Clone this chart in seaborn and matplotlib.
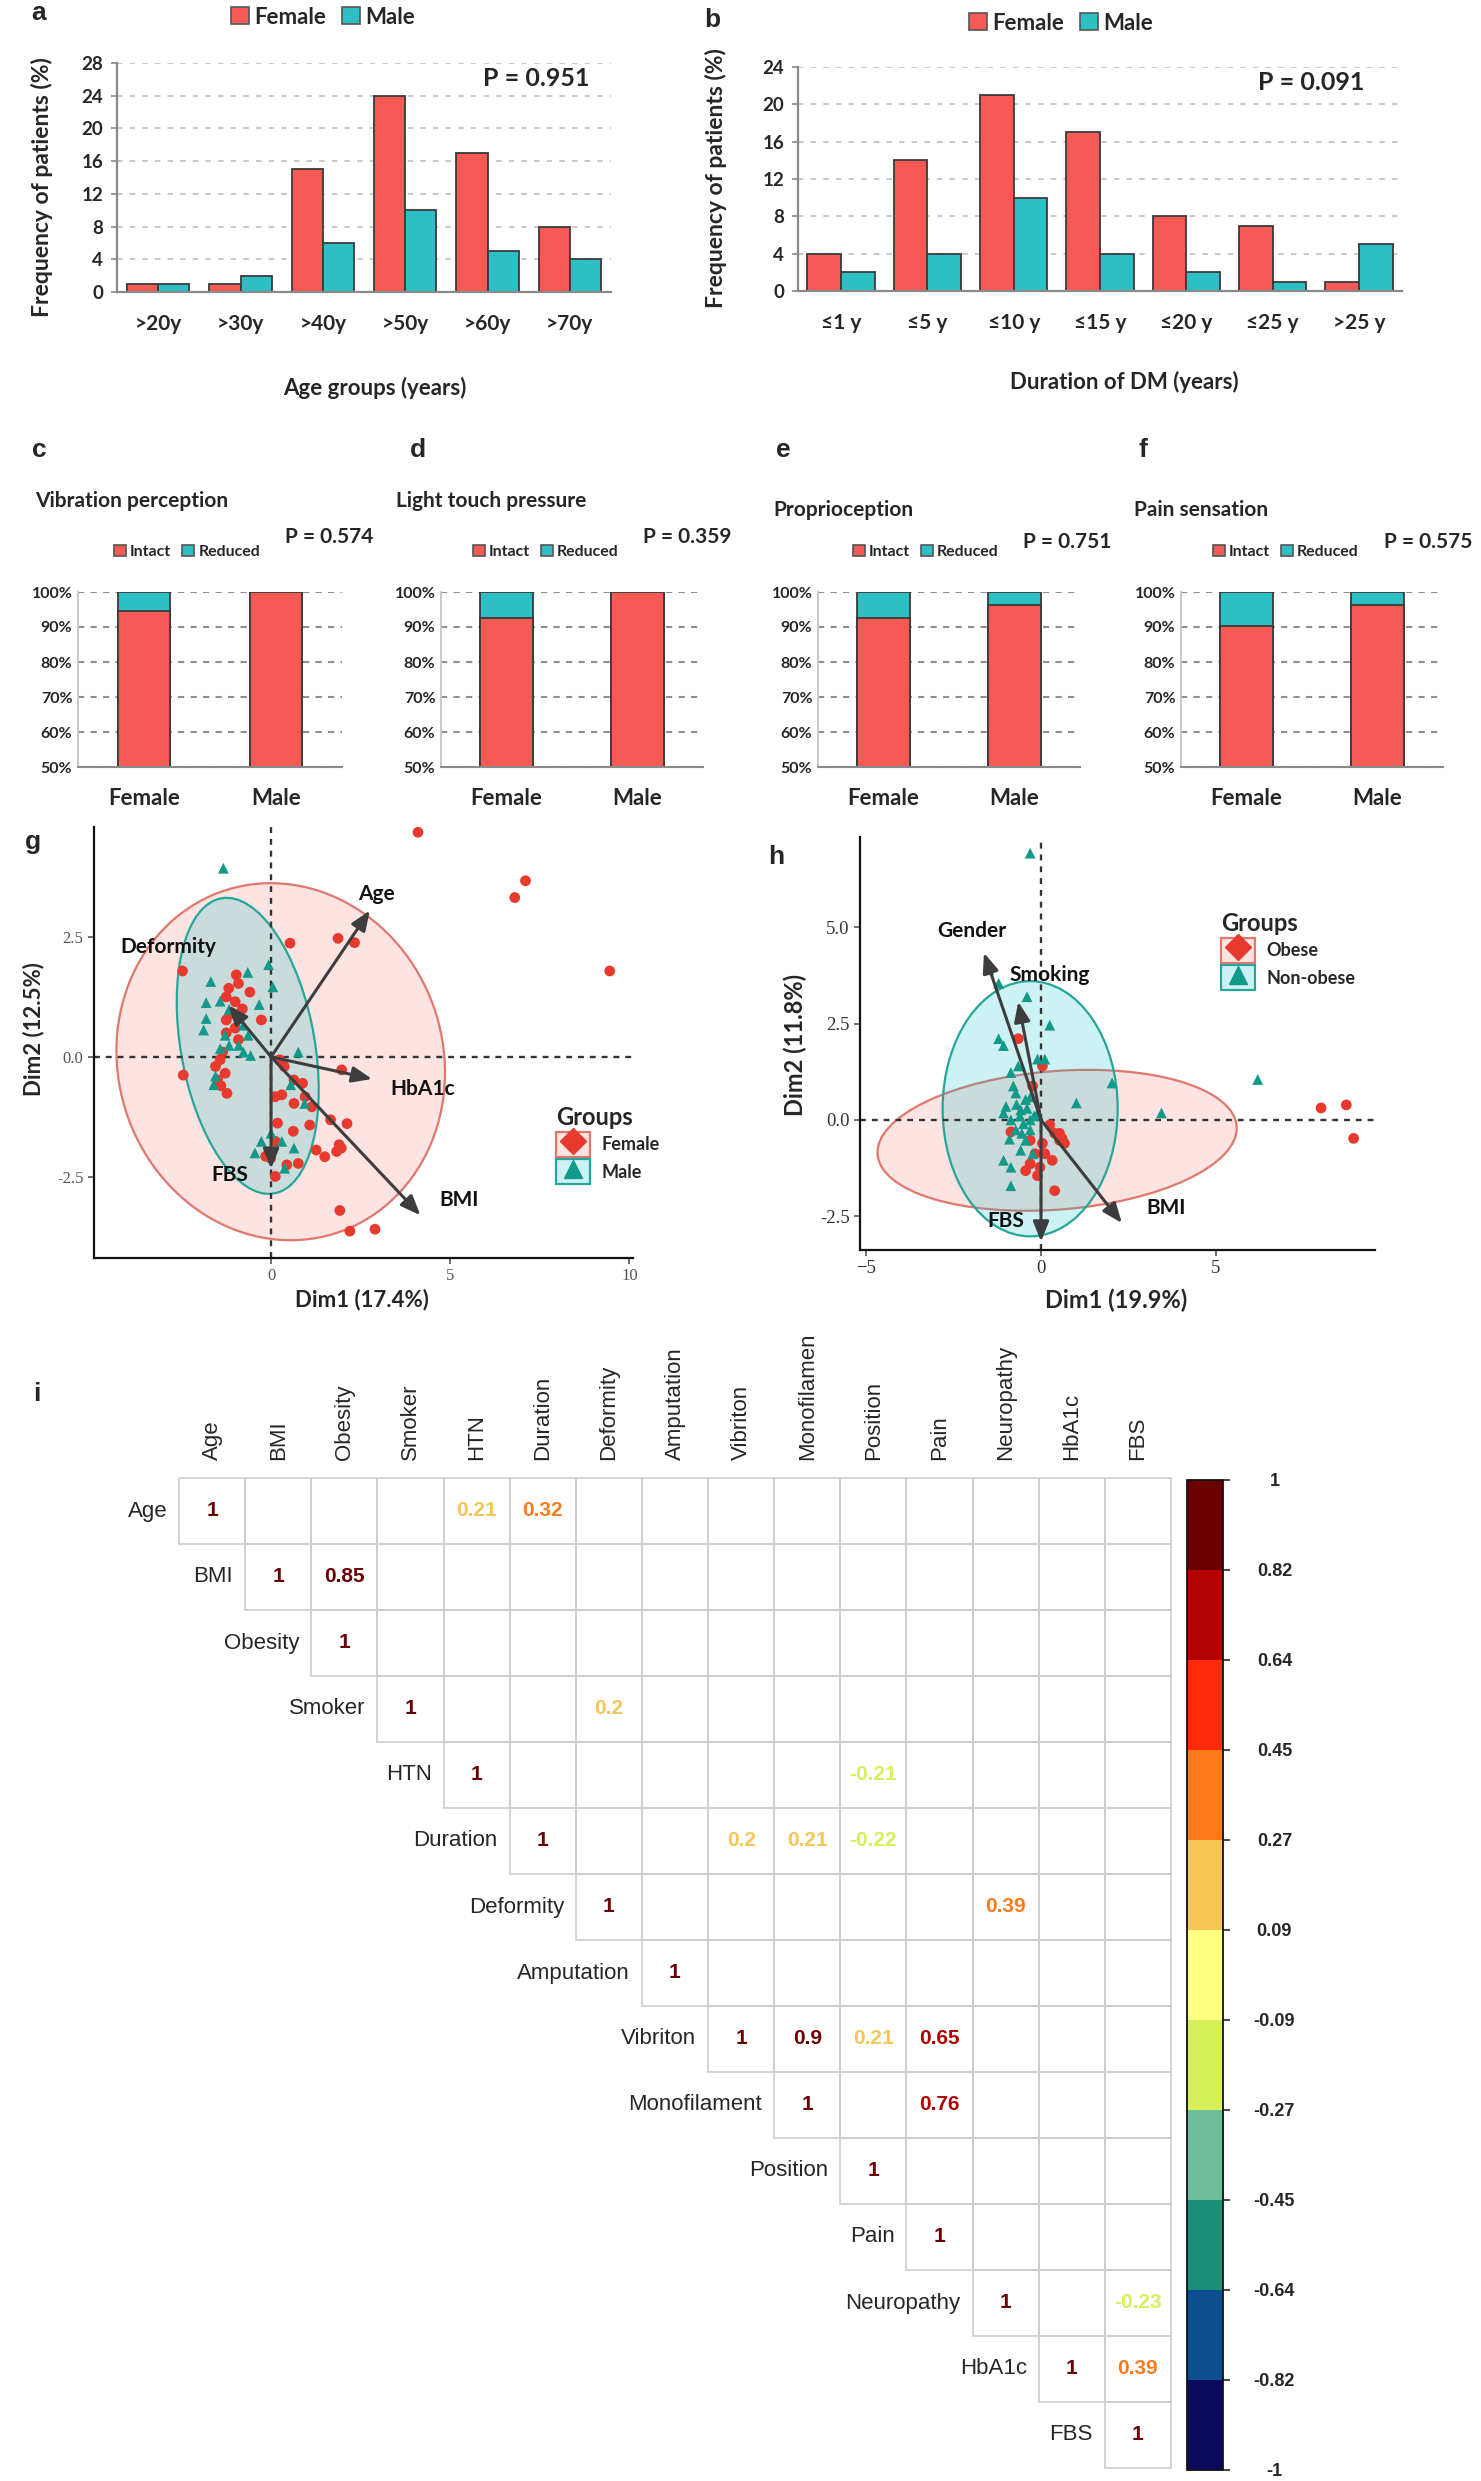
import numpy as np
import pandas as pd
import matplotlib
matplotlib.use('Agg')
import matplotlib.pyplot as plt
import seaborn as sns
from matplotlib.patches import Ellipse, Patch, Rectangle
from matplotlib.lines import Line2D
from matplotlib.colors import ListedColormap, BoundaryNorm, to_rgba
from matplotlib.colorbar import ColorbarBase
from matplotlib.transforms import Bbox, TransformedBbox

sns.set_style('white')
plt.rcParams['font.family'] = ['Lato', 'DejaVu Sans']

# ---------------- data ----------------
sexes = ['Female', 'Male']

age_groups = ['>20y', '>30y', '>40y', '>50y', '>60y', '>70y']
age_female = [1, 1, 15, 24, 17, 8]
age_male = [1, 2, 6, 10, 5, 4]

dur_groups = ['≤1 y', '≤5 y', '≤10 y', '≤15 y', '≤20 y', '≤25 y', '>25 y']
dur_female = [4, 14, 21, 17, 8, 7, 1]
dur_male = [2, 4, 10, 4, 2, 1, 5]

sens_letters = ['c', 'd', 'e', 'f']
sens_titles = ['Vibration perception', 'Light touch pressure', 'Proprioception', 'Pain sensation']
sens_p = ['P = 0.574', 'P = 0.359', 'P = 0.751', 'P = 0.575']
intact_female = [94.5, 92.5, 92.6, 90.2]
intact_male = [100, 100, 96.4, 96.4]
pct_ticks = [50, 60, 70, 80, 90, 100]

# PCA by gender (panel g)
g_female_x = [4.1, 7.1, 6.8, 9.45, 0.53, 1.87, 2.33, -2.47, 1.92, 2.2, 2.9,
              -0.97, -0.91, -1.18, -0.59, -1.25, -1.0, -0.27, -1.25, -1.0, -1.25, -0.91,
              -1.42, -1.55, -1.28, -1.49, -2.45, -1.23, 0.24, 0.37, 0.64, 0.88, 1.97,
              0.12, 0.3, 0.95, 0.64, 1.14, 0.18, 1.08, 1.66, 2.12, 0.62, 0.12,
              1.26, 1.9, 1.96, 1.83, 1.5, -0.01, 0.76, 0.44, 0.12, -0.15,
              -1.35, -1.1, -0.8, -1.4]
g_female_y = [4.68, 3.67, 3.32, 1.79, 2.37, 2.47, 2.38, 1.79, -3.2, -3.63, -3.59,
              1.71, 1.53, 1.43, 1.35, 1.25, 1.15, 0.77, 0.77, 0.6, 0.5, 0.36,
              -0.06, -0.2, -0.34, -0.48, -0.38, -0.76, -0.06, -0.2, -0.48, -0.55, -0.27,
              -0.83, -0.79, -0.83, -0.97, -1.04, -1.38, -1.42, -1.31, -1.39, -1.55, -1.76,
              -1.94, -1.83, -1.9, -1.97, -2.08, -2.11, -2.22, -2.25, -2.49, -2.07,
              0.1, 0.9, 1.0, -0.6]
g_male_x = [-1.33, -1.68, -0.65, -0.07, 0.05, -1.81, -0.33, -1.81, -1.42, -1.17,
            -1.88, -1.28, -0.77, -0.64, -0.77, -0.57, -0.9, -1.17, -1.42, 0.76,
            -1.6, -1.55, 0.55, 0.94, -0.27, 0.3, 0.0, 0.38, 0.64, -0.45]
g_male_y = [3.93, 1.57, 1.76, 1.92, 1.46, 1.13, 1.09, 0.8, 1.16, 0.99,
            0.56, 0.45, 0.66, 0.45, 0.1, 0.03, 0.24, 0.24, 0.17, 0.1,
            -0.58, -0.4, -0.58, -0.97, -1.76, -1.76, -1.59, -2.32, -1.9, -2.0]
g_vars = ['Age', 'Deformity', 'HbA1c', 'BMI', 'FBS']
g_arrow_x = [2.76, -1.19, 2.82, 4.17, 0.0]
g_arrow_y = [3.05, 1.08, -0.46, -3.3, -2.33]
g_label_x = [2.95, -2.88, 4.23, 5.26, -1.15]
g_label_y = [3.39, 2.29, -0.66, -2.99, -2.46]
# ellipse: centre x, centre y, width, height, angle
g_ell_female = [0.27, -0.1, 9.2, 7.4, -8]
g_ell_male = [-0.65, 0.23, 6.34, 3.68, 106.5]

# PCA by obesity (panel h)
h_groups = ['Obese', 'Non-obese']
h_obese_x = [8.0, 8.72, 8.93, -0.65, 0.04, -0.24, -0.86, 0.25, 0.53, 0.6, 0.39, 0.04,
             -0.17, 0.32, -0.03, -0.31, -0.44, -0.1, 0.39, 0.11, 0.53, 0.67, -0.31]
h_obese_y = [0.31, 0.39, -0.48, 2.11, 1.4, 0.88, -0.31, -0.13, -0.53, -0.48, -0.35, -0.61,
             -0.88, -1.05, -1.23, -1.14, -1.32, -1.45, -1.84, -0.88, -0.35, -0.61, -0.53]
h_non_x = [-0.31, 6.19, 3.44, 1.01, 2.03, 0.25, -0.4, -1.49, -1.21, -1.21, -1.07, -0.86,
           -0.79, -0.1, 0.11, -1.0, -1.07, -0.86, -0.31, -0.58, -0.44, -0.72, -0.44,
           -1.07, -0.86, -0.86, -0.24, -0.58, -0.31, -0.1, -0.72, -0.65,
           -0.6, -0.4, -0.2, -0.5, -0.7, -0.3, -0.9, -0.55]
h_non_y = [6.93, 1.05, 0.18, 0.44, 0.96, 2.46, 3.2, 3.9, 3.55, 2.11, 1.93, 1.23,
           0.88, 1.58, 1.58, 0.35, 0.18, 0.0, 0.0, 0.26, 0.53, -0.26, -0.53,
           -1.05, -1.23, -1.71, -0.88, -0.79, -0.26, 0.18, 0.7, 1.4,
           0.1, 0.3, 0.1, -0.1, 0.4, 0.6, -0.5, -0.35]
h_vars = ['Gender', 'Smoking', 'BMI', 'FBS']
h_arrow_x = [-1.63, -0.65, 2.31, 0.0]
h_arrow_y = [4.34, 3.07, -2.68, -3.16]
h_label_x = [-1.97, 0.25, 3.58, -1.0]
h_label_y = [4.91, 3.77, -2.28, -2.63]
h_ell_obese = [0.46, -0.53, 10.28, 3.6, 4]
h_ell_non = [-0.31, 0.29, 5.0, 6.63, 0]

# correlation matrix (panel i), only values shown in the figure
var_names = ['Age', 'BMI', 'Obesity', 'Smoker', 'HTN', 'Duration', 'Deformity', 'Amputation',
             'Vibriton', 'Monofilament', 'Position', 'Pain', 'Neuropathy', 'HbA1c', 'FBS']
cor_row = ['Age', 'Age', 'BMI', 'Smoker', 'HTN', 'Duration', 'Duration', 'Duration',
           'Deformity', 'Vibriton', 'Vibriton', 'Vibriton', 'Monofilament', 'Neuropathy', 'HbA1c']
cor_col = ['HTN', 'Duration', 'Obesity', 'Deformity', 'Position', 'Vibriton', 'Monofilament', 'Position',
           'Neuropathy', 'Monofilament', 'Position', 'Pain', 'Pain', 'FBS', 'FBS']
cor_val = [0.21, 0.32, 0.85, 0.2, -0.21, 0.2, 0.21, -0.22, 0.39, 0.9, 0.21, 0.65, 0.76, -0.23, 0.39]
cbar_colors = ['#0a0a5c', '#0b4f91', '#1a9079', '#6cbf9a', '#d6f05a', '#ffff80',
               '#f5c556', '#ff7a1a', '#ff2a0a', '#b30000', '#6b0000']
cbar_labels = ['-1', '-0.82', '-0.64', '-0.45', '-0.27', '-0.09', '0.09', '0.27', '0.45', '0.64', '0.82', '1']

RED = '#f65a54'
TEAL = '#2dbfc3'
EDGE = '#3a3a3a'
PT_RED = '#e8392e'
PT_TEAL = '#12998a'

# ---------------- figure ----------------
W, H = 1481, 2481
fig = plt.figure(figsize=(W / 100, H / 100), dpi=100)


def box(l, t, r, b):
    return fig.add_axes([l / W, 1 - b / H, (r - l) / W, (b - t) / H])


def ftext(x, y, s, **kw):
    return fig.text(x / W, 1 - y / H, s, **kw)


def letter(x, y, s):
    ftext(x, y, s, ha='center', va='center', fontsize=19, fontweight='bold', family='Liberation Sans')


# ---- a, b : grouped bars ----
def group_bars(rect, cats, fem, mal, ymax, width):
    ax = box(*rect)
    df = pd.DataFrame({'group': cats * 2,
                       'sex': ['Female'] * len(cats) + ['Male'] * len(cats),
                       'value': fem + mal})
    sns.barplot(data=df, x='group', y='value', hue='sex', order=cats, hue_order=sexes,
                palette=[RED, TEAL], saturation=1, width=width, edgecolor=EDGE, linewidth=1.3,
                ax=ax, legend=False)
    ax.set_xlim(-0.5, len(cats) - 0.5)
    ax.set_ylim(0, ymax)
    ax.set_yticks(range(0, ymax + 1, 4))
    ax.yaxis.grid(True, color='#c4c4c4', ls=(0, (3, 4)), lw=1.3)
    ax.set_axisbelow(True)
    sns.despine(ax=ax)
    for s in ['left', 'bottom']:
        ax.spines[s].set_color('#8a8a8a')
        ax.spines[s].set_linewidth(1.6)
    ax.set_xticks(np.arange(-0.5, len(cats)), minor=True)
    ax.tick_params(axis='x', which='major', length=0, pad=16, labelsize=15)
    ax.tick_params(axis='x', which='minor', length=6, width=1.4, color='#6a6a6a')
    ax.tick_params(axis='y', length=4, width=1.2, color='#8a8a8a', left=True, pad=6, labelsize=13.5)
    for lbl in ax.get_xticklabels() + ax.get_yticklabels():
        lbl.set_fontweight('bold')
    ax.set_xlabel('')
    ax.set_ylabel('')
    return ax


def bar_legend(ax, cx, cy, labels, size, hl):
    hs = [Patch(facecolor=RED, edgecolor='#555555', lw=1.2), Patch(facecolor=TEAL, edgecolor='#555555', lw=1.2)]
    ax.legend(hs, labels, loc='center', bbox_to_anchor=(cx / W, 1 - cy / H), bbox_transform=fig.transFigure,
              ncol=2, frameon=False, handlelength=hl, handleheight=hl, handletextpad=0.25,
              columnspacing=0.7, borderpad=0, prop=dict(size=size, weight='bold'))


ax_a = group_bars((117, 63, 611, 292), age_groups, age_female, age_male, 28, 0.76)
bar_legend(ax_a, 323, 17, sexes, 16, 0.8)
letter(39, 13, 'a')
ftext(536, 78, 'P = 0.951', ha='center', va='center', fontsize=18, fontweight='bold')
ftext(375, 388, 'Age groups (years)', ha='center', va='center', fontsize=16, fontweight='bold')
ftext(42, 187, 'Frequency of patients (%)', ha='center', va='center', rotation=90, fontsize=16.5, fontweight='bold')

ax_b = group_bars((798, 67, 1402, 291), dur_groups, dur_female, dur_male, 24, 0.78)
bar_legend(ax_b, 1061, 23, sexes, 16, 0.8)
letter(712, 20, 'b')
ftext(1311, 83, 'P = 0.091', ha='center', va='center', fontsize=18, fontweight='bold')
ftext(1124, 382, 'Duration of DM (years)', ha='center', va='center', fontsize=16, fontweight='bold')
ftext(716, 178, 'Frequency of patients (%)', ha='center', va='center', rotation=90, fontsize=16.5, fontweight='bold')

# ---- c-f : stacked percentage bars ----
sens_rects = [(78, 592, 342, 767), (441, 592, 703, 767), (818, 592, 1080, 767), (1181, 592, 1443, 767)]
sens_letter_x = [39, 418, 783, 1143]
sens_title_pos = [(35, 501), (396, 501), (773, 510), (1134, 510)]
sens_leg_pos = [(187, 552), (546, 552), (926, 552), (1286, 552)]
sens_p_pos = [(329, 537), (687, 537), (1067, 542), (1428, 542)]

for k in range(4):
    ax = box(*sens_rects[k])
    df = pd.DataFrame({'sex': sexes, 'intact': [intact_female[k], intact_male[k]]})
    df['total'] = 100
    sns.barplot(data=df, x='sex', y='total', color=TEAL, saturation=1, width=0.4,
                edgecolor=EDGE, linewidth=1.3, ax=ax)
    sns.barplot(data=df, x='sex', y='intact', color=RED, saturation=1, width=0.4,
                edgecolor=EDGE, linewidth=1.3, ax=ax)
    ax.set_xlim(-0.5, 1.5)
    ax.set_ylim(50, 100)
    ax.set_yticks(pct_ticks)
    ax.set_yticklabels([f'{v}%' for v in pct_ticks])
    ax.yaxis.grid(True, color='#8f8f8f', ls=(0, (3, 3)), lw=1.5)
    ax.set_axisbelow(True)
    sns.despine(ax=ax)
    ax.spines['left'].set_color('#c8c8c8')
    ax.spines['left'].set_linewidth(1.4)
    ax.spines['bottom'].set_color('#8a8a8a')
    ax.spines['bottom'].set_linewidth(1.5)
    ax.set_xticks([-0.5, 0.5, 1.5], minor=True)
    ax.tick_params(axis='x', which='major', length=0, pad=15, labelsize=16)
    ax.tick_params(axis='x', which='minor', length=5, width=1.3, color='#7a7a7a')
    ax.tick_params(axis='y', length=0, pad=4, labelsize=11.5)
    for lbl in ax.get_xticklabels() + ax.get_yticklabels():
        lbl.set_fontweight('bold')
    ax.set_xlabel('')
    ax.set_ylabel('')
    letter(sens_letter_x[k], 450, sens_letters[k])
    ftext(*sens_title_pos[k], sens_titles[k], ha='left', va='center', fontsize=15, fontweight='bold')
    bar_legend(ax, *sens_leg_pos[k], ['Intact', 'Reduced'], 11.5, 0.75)
    ftext(*sens_p_pos[k], sens_p[k], ha='center', va='center', fontsize=15, fontweight='bold')


# ---- g, h : PCA biplots ----
ELL_FILL = [to_rgba('#f8766d', 0.2), to_rgba('#00bfc4', 0.2)]
ELL_EDGE = ['#e0786e', '#26a69a']


def biplot(rect, names, xs, ys, markers, ells, vars_, ax_x, ax_y, lab_x, lab_y, xlim, ylim, xticks, yticks,
           tick_size, tick_color):
    ax = box(*rect)
    for e, fc, ec in zip(ells, ELL_FILL, ELL_EDGE):
        ax.add_patch(Ellipse((e[0], e[1]), e[2], e[3], angle=e[4], facecolor=fc, edgecolor=ec, lw=1.6, zorder=1))
    ax.axhline(0, color='#333333', ls=(0, (2.5, 2.5)), lw=1.7, zorder=2)
    ax.axvline(0, color='#333333', ls=(0, (2.5, 2.5)), lw=1.7, zorder=2)
    df = pd.DataFrame({'x': xs[0] + xs[1], 'y': ys[0] + ys[1],
                       'group': [names[0]] * len(xs[0]) + [names[1]] * len(xs[1])})
    sns.scatterplot(data=df, x='x', y='y', hue='group', style='group', hue_order=names, style_order=names,
                    markers=dict(zip(names, markers)), palette=dict(zip(names, [PT_RED, PT_TEAL])),
                    s=60, linewidth=0, legend=False, ax=ax, zorder=3)
    for v, tx, ty, lx, ly in zip(vars_, ax_x, ax_y, lab_x, lab_y):
        ax.annotate('', xy=(tx, ty), xytext=(0, 0), zorder=5,
                    arrowprops=dict(arrowstyle='-|>,head_length=0.75,head_width=0.3', color='#3d3d3d',
                                    lw=2.2, shrinkA=0, shrinkB=0, mutation_scale=16))
        ax.text(lx, ly, v, ha='center', va='center', fontsize=15, fontweight='bold', color='#111111', zorder=6)
    ax.set_xlim(*xlim)
    ax.set_ylim(*ylim)
    ax.set_xticks(xticks)
    ax.set_yticks(yticks)
    ax.set_yticklabels([f'{t:.1f}' for t in yticks])
    sns.despine(ax=ax)
    for s in ['left', 'bottom']:
        ax.spines[s].set_color('#111111')
        ax.spines[s].set_linewidth(1.6)
    ax.tick_params(length=4, width=1.2, color='#555555', labelsize=tick_size, labelcolor=tick_color,
                   bottom=True, left=True)
    for lbl in ax.get_xticklabels() + ax.get_yticklabels():
        lbl.set_family('Liberation Serif')
    ax.set_xlabel('')
    ax.set_ylabel('')
    return ax


def group_legend(ax, names, markers, x, y):
    hs = []
    for fc, ec, col, m in zip(ELL_FILL, ELL_EDGE, [PT_RED, PT_TEAL], markers):
        hs.append((Patch(facecolor=fc, edgecolor=ec, lw=1.6),
                   Line2D([], [], ls='', marker=m, color=col, markersize=13)))
    ax.legend(hs, names, title='Groups', loc='upper left', bbox_to_anchor=(x / W, 1 - y / H),
              bbox_transform=fig.transFigure, frameon=False, handlelength=1.9, handleheight=1.75,
              handletextpad=0.6, labelspacing=0.15, borderpad=0, alignment='left',
              prop=dict(size=13, weight='bold'), title_fontproperties=dict(size=17, weight='bold'))


ax_g = biplot((94, 827, 633, 1258), sexes, [g_female_x, g_male_x], [g_female_y, g_male_y], ['o', '^'],
              [g_ell_female, g_ell_male], g_vars, g_arrow_x, g_arrow_y, g_label_x, g_label_y,
              (-4.94, 10.1), (-4.19, 4.79), [0, 5, 10], [-2.5, 0.0, 2.5], 12, '#555555')
group_legend(ax_g, sexes, ['D', '^'], 547, 1097)
letter(33, 842, 'g')
ftext(362, 1300, 'Dim1 (17.4%)', ha='center', va='center', fontsize=16, fontweight='bold')
ftext(34, 1029, 'Dim2 (12.5%)', ha='center', va='center', rotation=90, fontsize=16, fontweight='bold')

ax_h = biplot((860, 837, 1375, 1250), h_groups, [h_obese_x, h_non_x], [h_obese_y, h_non_y], ['o', '^'],
              [h_ell_obese, h_ell_non], h_vars, h_arrow_x, h_arrow_y, h_label_x, h_label_y,
              (-5.17, 9.54), (-3.38, 7.35), [-5, 0, 5], [-2.5, 0.0, 2.5, 5.0], 13.5, '#333333')
group_legend(ax_h, h_groups, ['D', '^'], 1212, 903)
letter(776, 857, 'h')
ftext(1116, 1300, 'Dim1 (19.9%)', ha='center', va='center', fontsize=17, fontweight='bold')
ftext(795, 1045, 'Dim2 (11.8%)', ha='center', va='center', rotation=90, fontsize=17, fontweight='bold')

# ---- i : correlation matrix ----
n = len(var_names)
cmap = ListedColormap(cbar_colors)
bounds = np.linspace(-1, 1, len(cbar_colors) + 1)
norm = BoundaryNorm(bounds, cmap.N)

ax_i = box(179, 1478, 1171, 2468)
mask = np.tril(np.ones((n, n), dtype=bool), k=-1)
sns.heatmap(pd.DataFrame(np.zeros((n, n)), index=var_names, columns=var_names), mask=mask,
            cmap=ListedColormap(['white']), cbar=False, linewidths=0,
            xticklabels=False, yticklabels=False, ax=ax_i)
# cell borders only for the upper triangle
for r in range(n):
    for c in range(r, n):
        ax_i.add_patch(Rectangle((c, r), 1, 1, fill=False, edgecolor='#cdcdcd', lw=1.2, clip_on=False))
clip = TransformedBbox(Bbox([[0, 0], [1, 1 - 1336 / H]]), fig.transFigure)
for j, name in enumerate(var_names):
    t = ax_i.text(j + 0.5, -0.27, name, rotation=90, ha='center', va='bottom', fontsize=16,
                  family='Liberation Sans')
    t.set_clip_path(None)
    t.set_clip_box(clip)
    t.set_clip_on(True)
    ax_i.text(j - 0.18, j + 0.5, name, ha='right', va='center', fontsize=16, family='Liberation Sans')
    ax_i.text(j + 0.5, j + 0.5, '1', ha='center', va='center', fontsize=15, fontweight='bold',
              color=cmap(norm(1.0)), family='Liberation Sans')
for r, c, v in zip(cor_row, cor_col, cor_val):
    ax_i.text(var_names.index(c) + 0.5, var_names.index(r) + 0.5, f'{v:g}', ha='center', va='center',
              fontsize=15, fontweight='bold', color=cmap(norm(v)), family='Liberation Sans')
letter(37, 1394, 'i')

cax = box(1187, 1480, 1223, 2470)
cb = ColorbarBase(cax, cmap=cmap, norm=norm, boundaries=bounds, ticks=bounds, orientation='vertical')
cb.outline.set_linewidth(1.3)
cb.outline.set_edgecolor('#111111')
cax.set_yticklabels(cbar_labels)
cax.tick_params(length=5, width=1.2, pad=32, labelsize=13)
for lbl in cax.get_yticklabels():
    lbl.set_ha('center')
    lbl.set_family('Liberation Sans')
    lbl.set_fontweight('bold')

fig.savefig('out.png', dpi=100)
